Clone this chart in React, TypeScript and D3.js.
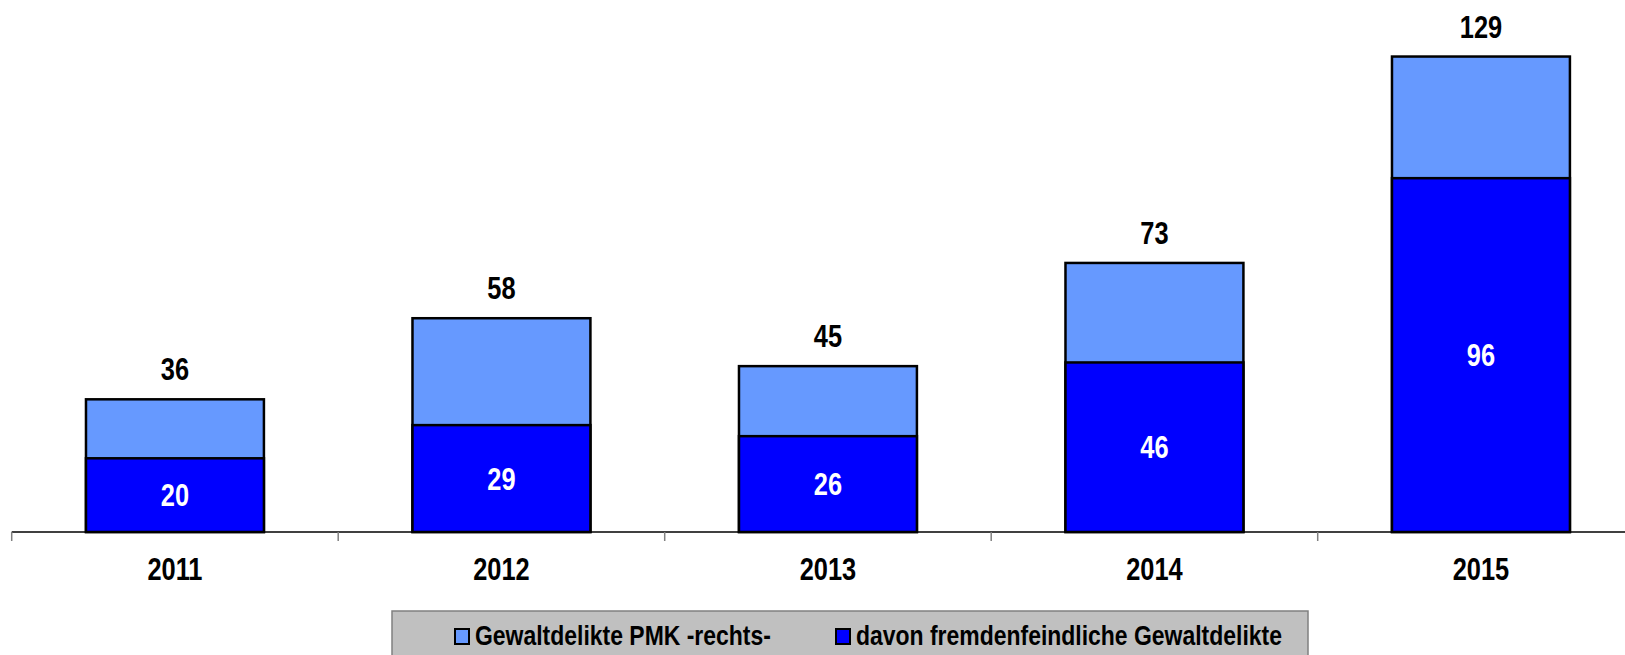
import React, { useEffect, useRef } from 'react';
import * as d3 from 'd3';

// chart data
const years = ['2011', '2012', '2013', '2014', '2015'];
const totalValues = [36, 58, 45, 73, 129];
const xenophobicValues = [20, 29, 26, 46, 96];
const seriesNames = ['Gewaltdelikte PMK -rechts-', 'davon fremdenfeindliche Gewaltdelikte'];
const seriesColors = ['#6699FF', '#0000FF'];

// no narrow font installed, so squeeze Liberation Sans bold horizontally
const FONT = "'Liberation Sans', Arial, sans-serif";
const SQUEEZE = 0.82;

const App = () => {
    const ref = useRef<SVGSVGElement | null>(null);

    useEffect(() => {
        const svg = d3.select(ref.current);
        svg.selectAll('*').remove();

        const width = 1625;
        const baseY = 532;

        // band per year, ticks sit on the band edges
        const x = d3.scaleBand<string>()
            .domain(years)
            .range([11.7, 11.7 + 326.5 * years.length])
            .padding(0);
        const y = d3.scaleLinear().domain([0, 140]).range([baseY, 16]);
        const barW = x.bandwidth() * 0.545;
        const barX = (yr: string) => (x(yr) as number) + (x.bandwidth() - barW) / 2;
        const cx = (yr: string) => (x(yr) as number) + x.bandwidth() / 2;

        const g = svg.append('g');

        // axis line + ticks
        g.append('line')
            .attr('x1', x.range()[0]).attr('x2', width)
            .attr('y1', baseY).attr('y2', baseY)
            .attr('stroke', '#000').attr('stroke-width', 1.5);
        g.selectAll('.tick')
            .data(years)
            .enter()
            .append('line')
            .attr('x1', (d) => x(d) as number)
            .attr('x2', (d) => x(d) as number)
            .attr('y1', baseY)
            .attr('y2', baseY + 9)
            .attr('stroke', '#808080')
            .attr('stroke-width', 1.5);

        // total bars (light blue)
        g.selectAll('.total')
            .data(totalValues)
            .enter()
            .append('rect')
            .attr('x', (d, i) => barX(years[i]))
            .attr('y', (d) => y(d))
            .attr('width', barW)
            .attr('height', (d) => baseY - y(d))
            .attr('fill', seriesColors[0])
            .attr('stroke', '#000')
            .attr('stroke-width', 2.5);

        // subset bars (dark blue)
        g.selectAll('.sub')
            .data(xenophobicValues)
            .enter()
            .append('rect')
            .attr('x', (d, i) => barX(years[i]))
            .attr('y', (d) => y(d))
            .attr('width', barW)
            .attr('height', (d) => baseY - y(d))
            .attr('fill', seriesColors[1])
            .attr('stroke', '#000')
            .attr('stroke-width', 2.5);

        const addText = (sel, tx, ty, size, color, anchor) => sel
            .append('text')
            .attr('transform', (d, i) => `translate(${tx(d, i)},${ty(d, i)}) scale(${SQUEEZE},1)`)
            .attr('text-anchor', anchor)
            .style('font-family', FONT)
            .style('font-weight', 'bold')
            .style('font-size', `${size}px`)
            .attr('fill', color);

        // total labels above bars
        addText(
            g.selectAll('.totalLabel').data(totalValues).enter(),
            (d, i) => cx(years[i]),
            (d) => y(d) - 19,
            31, '#000', 'middle',
        ).text((d) => d);

        // subset labels inside
        addText(
            g.selectAll('.subLabel').data(xenophobicValues).enter(),
            (d, i) => cx(years[i]),
            (d) => (y(d) + baseY) / 2 + 11,
            31, '#fff', 'middle',
        ).text((d) => d);

        // year labels
        addText(
            g.selectAll('.year').data(years).enter(),
            (d) => cx(d),
            () => 580,
            31, '#000', 'middle',
        ).text((d) => d);

        // legend box
        const legend = svg.append('g');
        legend.append('rect')
            .attr('x', 392).attr('y', 611)
            .attr('width', 916).attr('height', 60)
            .attr('fill', '#C0C0C0')
            .attr('stroke', '#808080')
            .attr('stroke-width', 1.5);
        const legendX = [455, 836];
        seriesNames.forEach((name, i) => {
            legend.append('rect')
                .attr('x', legendX[i]).attr('y', 629)
                .attr('width', 14).attr('height', 15)
                .attr('fill', seriesColors[i])
                .attr('stroke', '#000')
                .attr('stroke-width', 2);
            addText(
                legend.selectAll(`.lg${i}`).data([name]).enter(),
                () => legendX[i] + 20,
                () => 645,
                28, '#000', 'start',
            ).text((d) => d);
        });
    }, []);

    return (
        <svg
            ref={ref}
            width={1625}
            height={655}
            style={{ position: 'absolute', left: 0, top: 0, background: '#fff' }}
        />
    );
};

export default App;
